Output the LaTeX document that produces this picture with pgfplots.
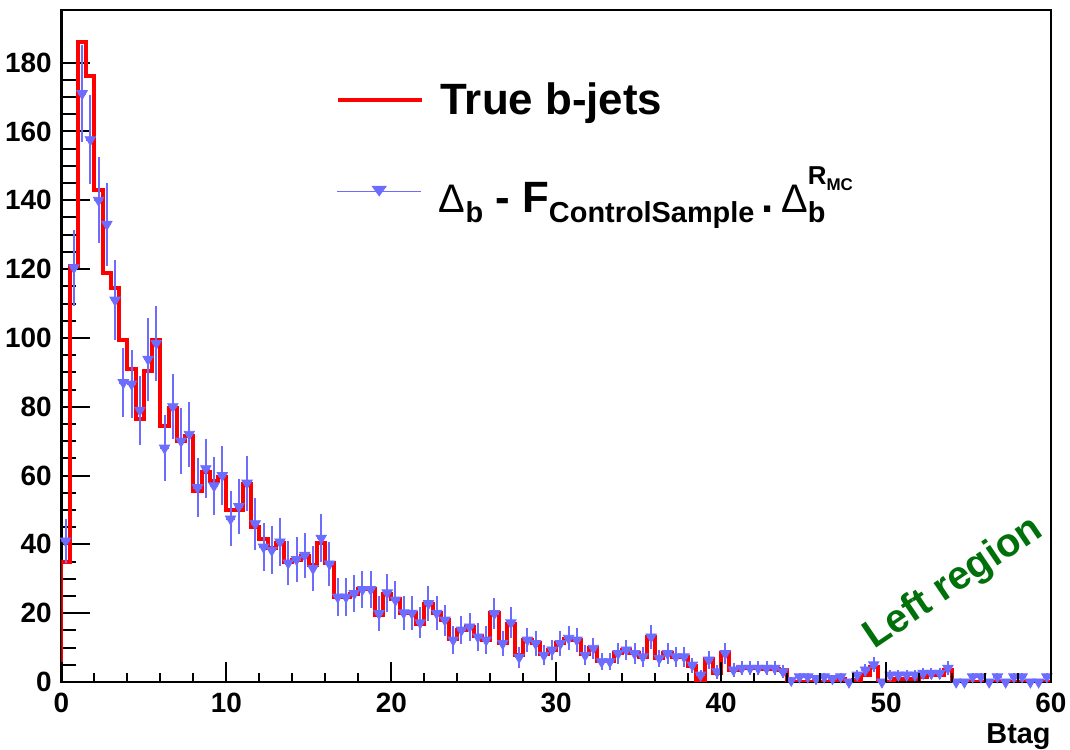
\documentclass[border=0pt]{standalone}
\usepackage{fontspec}
\setmainfont{Liberation Sans}
\usepackage{pgfplots}
\pgfplotsset{compat=1.18}
\usepackage{pgfplotstable}
\definecolor{histred}{RGB}{255,0,0}
\definecolor{ptblue}{RGB}{108,108,255}
\definecolor{lgreen}{RGB}{0,112,10}

\pgfplotstableread{
x y
0 0
0 35
0.5 121
1 186
1.5 176
2 143
2.5 119
3 114.5
3.5 99.5
4 91
4.5 76.5
5 90.5
5.5 99.5
6 74.5
6.5 79.5
7 70
7.5 71.5
8 55.5
8.5 61
9 58.5
9.5 59.5
10 50
10.5 50
11 57.5
11.5 45
12 41.5
12.5 39
13 40.5
13.5 35
14 35.5
14.5 36.5
15 34
15.5 40.5
16 34.5
16.5 24.7
17 24.7
17.5 25.5
18 27
18.5 27
19 19.5
19.5 25.5
20 24
20.5 20
21 20
21.5 17
22 22.8
22.5 20
23 18
23.5 12.5
24 15
24.5 16
25 13.5
25.5 12.2
26 20
26.5 11.2
27 17
27.5 7.8
28 12.2
28.5 11.2
29 8
29.5 9.3
30 11.2
30.5 12.5
31 12.2
31.5 8
32 9.8
32.5 6
33 6
33.5 8.3
34 9.3
34.5 8.3
35 7.3
35.5 13
36 7
36.5 8.3
37 7.3
37.5 7.3
38 4.6
38.5 0.5
39 6.6
39.5 2.7
40 8.3
40.5 3.5
41 4
41.5 4
42 4
42.5 3.8
43 3.8
43.5 3.5
44 0
44.5 0
45 0
45.5 0
46 0
46.5 0
47 1
47.5 0
48 0.5
48.5 2
49 4.5
49.5 0
50 0
50.5 1
51 1
51.5 1
52 1.5
52.5 2
53 2
53.5 3.5
54 0
54.5 0
55 0
55.5 0
56 0
56.5 0
57 0
57.5 0
58 0
58.5 0
59 0
59.5 0
60 0
}\truetab

\pgfplotstableread{
x y ey
0.25 41 6.5
0.75 120.4 11
1.25 171 14
1.75 157.6 13
2.25 140 12.5
2.75 133 12
3.25 111 11.5
3.75 87 10
4.25 86.6 10
4.75 79 10
5.25 93.8 12
5.75 98.4 11
6.25 68 9.5
6.75 80 9.5
7.25 70 9.5
7.75 72 9.5
8.25 56.5 8.5
8.75 62 8.5
9.25 57 8.5
9.75 60 8.5
10.25 47.4 8
10.75 51 8
11.25 57.8 8
11.75 46 7.5
12.25 39.2 7
12.75 38.3 7
13.25 40.7 7
13.75 34.6 6.5
14.25 35.6 6.5
14.75 36.8 6.5
15.25 33 6.5
15.75 41.8 7
16.25 34.3 6.5
16.75 24.7 5.5
17.25 24.7 5.5
17.75 25.7 5.5
18.25 26.9 5.5
18.75 26.9 5.5
19.25 19.9 5
19.75 25.9 5.5
20.25 23.8 5.5
20.75 20.1 5
21.25 20 5
21.75 17.2 4.5
22.25 22.8 5
22.75 20 5
23.25 18 4.5
23.75 12.2 4
24.25 15.1 4
24.75 16 4
25.25 13.1 4
25.75 12.2 4
26.25 19.9 4.5
26.75 11.2 3.5
27.25 17.2 4.5
27.75 7.2 3
28.25 12.2 3.5
28.75 11.2 3.5
29.25 7.8 3
29.75 9.3 3
30.25 11.2 3.5
30.75 12.7 3.5
31.25 12.2 3.5
31.75 7.8 3
32.25 9.8 3
32.75 5.9 2.5
33.25 5.9 2.5
33.75 8.3 3
34.25 9.3 3
34.75 8.3 3
35.25 7.3 3
35.75 13.1 3.5
36.25 6.9 2.5
36.75 8.3 3
37.25 7.3 3
37.75 7.3 3
38.25 4.9 2.2
38.75 2 1.5
39.25 6.4 2.5
39.75 3 2
40.25 8.3 3
40.75 3.5 2
41.25 4 2
41.75 4 2
42.25 4 2
42.75 4 2
43.25 4 2
43.75 3 1.8
44.25 0.5 1
44.75 1.5 1.2
45.25 1.5 1.2
45.75 1 1
46.25 1.5 1.2
46.75 1 1
47.25 1.5 1.2
47.75 0 1
48.25 2 1.4
48.75 3.5 1.8
49.25 5 2.2
49.75 0 1
50.25 2 1.4
50.75 2 1.4
51.25 2 1.4
51.75 2 1.4
52.25 2.5 1.5
52.75 2.5 1.5
53.25 2.5 1.5
53.75 4 2
54.25 0 1
54.75 0 1
55.25 1.5 1.2
55.75 1.5 1.2
56.25 0 1
56.75 1.5 1.2
57.25 0 1
57.75 1.5 1.2
58.25 1.5 1.2
58.75 0 1
59.25 0 1
59.75 1.5 1.2
}\ptstab

\begin{document}
\begin{tikzpicture}
\pgfplotsset{
  myframe/.style={
    scale only axis,
    width=494.75bp, height=336bp,
    xmin=0, xmax=60, ymin=0, ymax=195.3,
    /pgf/number format/assume math mode=true,
    ticklabel style={font=\fontsize{14}{14}\selectfont\bfseries},
    tick style={line width=1bp, black},
    tick align=inside,
  }
}
\begin{axis}[myframe,
  axis line style={line width=1.3bp},
  xtick={0,10,...,60},
  xtick style={draw=none},
  xtick pos=bottom,
  ytick={0,20,...,180},
  minor y tick num=3,
  ytick pos=left,
  major tick length=14.5bp,
  minor tick length=7.5bp,
  yticklabel style={inner sep=0pt, xshift=-4.75bp},
  xticklabel style={inner sep=0pt, yshift=-5.5bp},
  xlabel={Btag},
  every axis x label/.style={at={(rel axis cs:1,0)}, anchor=north east, yshift=-20.5bp, inner sep=0pt, font=\fontsize{14.5}{14.5}\selectfont\bfseries},
  legend style={draw=none, fill=none, inner sep=0pt, at={(rel axis cs:0.2774,0.866)}, anchor=west,
    font=\fontsize{22}{22}\selectfont\bfseries,
    nodes={inner sep=0pt},
    /tikz/every odd column/.append style={column sep=8.5bp}},
  legend cell align=left,
]
\addlegendimage{legend image code/.code={\draw[histred, line width=1.6bp] (0bp,0bp) -- (42bp,0bp);}}
\addlegendentry{True b-jets}
\addplot[histred, line width=2bp, const plot, forget plot] table[x=x, y=y] {\truetab};
\addplot[ptblue, only marks, mark=triangle*, mark size=3bp, forget plot,
  mark options={rotate=180, fill=ptblue, draw=ptblue},
  error bars/.cd, x dir=both, x fixed=0.25, y dir=both, y explicit,
  error bar style={line width=1bp, ptblue}, error mark=none]
  table[x=x, y=y, y error=ey] {\ptstab};
\node[rotate=34, text=lgreen, font=\fontsize{20}{20}\selectfont\bfseries] at (axis cs:54.1,28.6) {Left region};
\end{axis}
\begin{axis}[myframe,
  axis line style={draw=none},
  xtick={0,10,...,60},
  minor x tick num=4,
  xtick pos=bottom,
  xticklabels={},
  ytick=\empty,
  major tick length=10bp,
  minor tick length=4.5bp,
  legend style={draw=none, fill=none, inner sep=0pt, at={(rel axis cs:0.2774,0.73)}, anchor=west,
    font=\fontsize{22}{22}\selectfont\bfseries,
    nodes={inner sep=0pt},
    /tikz/every odd column/.append style={column sep=8.5bp}},
  legend cell align=left,
]
\addlegendimage{legend image code/.code={\draw[ptblue, line width=0.8bp] (0bp,0bp) -- (42bp,0bp);
  \fill[ptblue] (21bp,-2.2bp) -- (17.5bp,2.6bp) -- (24.5bp,2.6bp) -- cycle;}}
\addlegendentry{{\fontsize{20}{20}\selectfont\mdseries Δ}\raisebox{-5bp}{\fontsize{14.5}{14.5}\selectfont b} - F\raisebox{-5bp}{\fontsize{14.5}{14.5}\selectfont ControlSample}\,.\,{\fontsize{20}{20}\selectfont\mdseries Δ}\rlap{\raisebox{-5bp}{\fontsize{14.5}{14.5}\selectfont b}}\raisebox{14bp}{\fontsize{13}{13}\selectfont R\raisebox{-3bp}{\fontsize{8.5}{8.5}\selectfont MC}}}
\end{axis}
\pgfresetboundingbox
\useasboundingbox (-30.75bp,-34bp) rectangle (504.25bp,341bp);
\end{tikzpicture}
\end{document}
